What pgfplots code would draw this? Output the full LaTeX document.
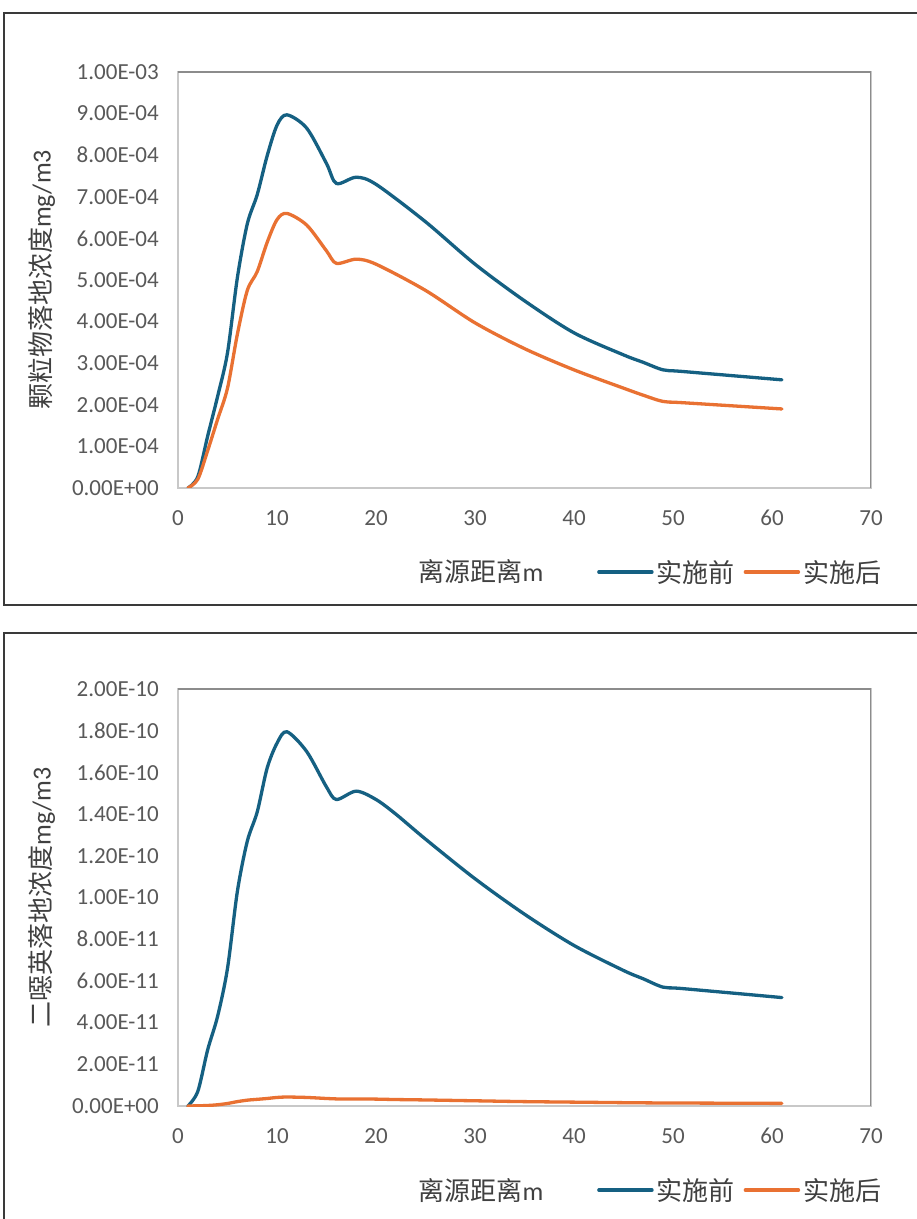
\documentclass[border=0pt]{standalone}
\usepackage{fontspec}
\setmainfont{Carlito}
\newfontfamily\cjk{Noto Sans CJK SC}
\usepackage{pgfplots}
\usepackage{pgfplotstable}
\pgfplotsset{compat=1.18}

\definecolor{before}{HTML}{156082}
\definecolor{after}{HTML}{E97132}
\definecolor{ticktext}{HTML}{595959}
\definecolor{titletext}{HTML}{404040}
\definecolor{lightaxis}{HTML}{C8C8C8}
\definecolor{darkaxis}{HTML}{8C8C8C}
\definecolor{framecol}{HTML}{3A3A3A}

% x  before  after   (mg/m3)
\pgfplotstableread{
x  before   after
1  0        0
2  0.27e-4  0.21e-4
3  1.25e-4  0.90e-4
4  2.20e-4  1.65e-4
5  3.25e-4  2.40e-4
6  5.06e-4  3.70e-4
7  6.35e-4  4.75e-4
8  7.05e-4  5.20e-4
9  7.98e-4  5.90e-4
10 8.72e-4  6.45e-4
11 8.97e-4  6.60e-4
13 8.65e-4  6.32e-4
15 7.80e-4  5.70e-4
16 7.32e-4  5.40e-4
18 7.47e-4  5.50e-4
20 7.30e-4  5.38e-4
25 6.40e-4  4.75e-4
30 5.38e-4  3.97e-4
35 4.50e-4  3.35e-4
40 3.73e-4  2.84e-4
45 3.20e-4  2.40e-4
47 3.02e-4  2.23e-4
49 2.84e-4  2.08e-4
51 2.80e-4  2.05e-4
61 2.60e-4  1.90e-4
}\particles

\pgfplotstableread{
x  before     after
1  0          0
2  0.07e-10   0.10e-12
3  0.27e-10   0.25e-12
4  0.43e-10   0.60e-12
5  0.66e-10   1.20e-12
6  1.03e-10   2.10e-12
7  1.27e-10   2.80e-12
8  1.41e-10   3.20e-12
9  1.62e-10   3.60e-12
10 1.74e-10   4.10e-12
11 1.795e-10  4.30e-12
13 1.70e-10   4.10e-12
15 1.53e-10   3.60e-12
16 1.47e-10   3.40e-12
18 1.51e-10   3.40e-12
20 1.47e-10   3.30e-12
22 1.40e-10   3.10e-12
25 1.28e-10   2.90e-12
30 1.09e-10   2.50e-12
35 0.92e-10   2.10e-12
40 0.77e-10   1.85e-12
45 0.65e-10   1.60e-12
47 0.61e-10   1.52e-12
49 0.57e-10   1.45e-12
51 0.563e-10  1.42e-12
61 0.52e-10   1.25e-12
}\dioxin

\pgfplotsset{
  panel/.style={
    scale only axis, width=693pt, anchor=south west,
    xmin=0, xmax=70, ymin=0,
    xtick={0,10,...,70},
    scaled y ticks=false,
    major tick length=0pt,
    axis line style={line width=2pt, draw=lightaxis},
    tick label style={font=\fontsize{23}{23}\selectfont, text=ticktext},
    /pgf/number format/assume math mode=true,
    xticklabel style={inner sep=0pt, yshift=-22pt},
    yticklabel style={inner sep=0pt, xshift=-19pt},
    xlabel={{\cjk 离源距离}m},
    xlabel style={font=\fontsize{26}{26}\selectfont, text=titletext,
      at={(axis description cs:0.4372,-0.2019)}, anchor=center},
    ylabel style={font=\fontsize{26}{26}\selectfont, text=titletext,
      at={(axis description cs:-0.1963,0.5)}, anchor=center},
    legend style={at={(axis description cs:0.6046,-0.2019)}, anchor=west,
      draw=none, fill=none, inner sep=0pt,
      font=\cjk\fontsize{26}{26}\selectfont, text=titletext,
      nodes={inner sep=3pt},
      /tikz/every even column/.append style={column sep=6pt}},
    legend columns=2,
    legend image code/.code={\draw[#1, line width=3.5pt] (0pt,0pt) -- (53pt,0pt);},
    every axis plot/.append style={smooth, tension=0.5, line width=3.3pt, line cap=round},
  }
}

\begin{document}
\begin{tikzpicture}[x=1pt, y=1pt]
\useasboundingbox (0,0) rectangle (917,1219);
\fill[white] (0,0) rectangle (917,1219);
\draw[framecol, line width=1.5pt] (4,1206) rectangle (930,614);
\draw[framecol, line width=1.5pt] (930,586) -- (4,586) -- (4,-10);

\begin{axis}[panel, at={(178pt,731pt)}, height=416pt, ymax=1e-3,
  ytick={0,1e-4,2e-4,3e-4,4e-4,5e-4,6e-4,7e-4,8e-4,9e-4,1e-3},
  yticklabels={0.00E+00,1.00E-04,2.00E-04,3.00E-04,4.00E-04,5.00E-04,6.00E-04,7.00E-04,8.00E-04,9.00E-04,1.00E-03},
  ylabel={{\cjk 颗粒物落地浓度}mg/m3}]
  \draw[darkaxis, line width=2pt] (rel axis cs:0,1) -- (rel axis cs:1,1) -- (rel axis cs:1,0);
  \addplot[before] table[x=x, y=before] {\particles};
  \addlegendentry{实施前}
  \addplot[after] table[x=x, y=after] {\particles};
  \addlegendentry{实施后}
\end{axis}

\begin{axis}[panel, at={(178pt,113pt)}, height=417pt, ymax=2e-10,
  ytick={0,2e-11,4e-11,6e-11,8e-11,1e-10,1.2e-10,1.4e-10,1.6e-10,1.8e-10,2e-10},
  yticklabels={0.00E+00,2.00E-11,4.00E-11,6.00E-11,8.00E-11,1.00E-10,1.20E-10,1.40E-10,1.60E-10,1.80E-10,2.00E-10},
  ylabel={{\cjk 二噁英落地浓度}mg/m3}]
  \draw[darkaxis, line width=2pt] (rel axis cs:0,1) -- (rel axis cs:1,1) -- (rel axis cs:1,0);
  \addplot[before] table[x=x, y=before] {\dioxin};
  \addlegendentry{实施前}
  \addplot[after] table[x=x, y=after] {\dioxin};
  \addlegendentry{实施后}
\end{axis}
\end{tikzpicture}
\end{document}
